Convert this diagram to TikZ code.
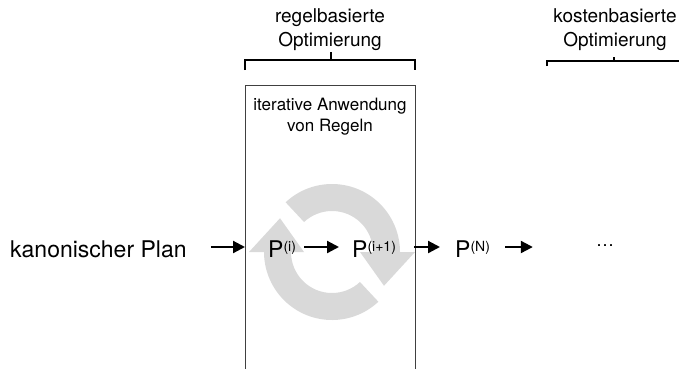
\documentclass[tikz,border=0pt]{standalone}
\usepackage{fontspec}
\setmainfont{TeX Gyre Heros}
\usetikzlibrary{arrows.meta}
\newcommand{\planP}[1]{P\raisebox{6pt}{\fontsize{14}{14}\selectfont(#1)}}
\begin{document}
\begin{tikzpicture}[x=1pt,y=-1pt,
  every node/.style={inner sep=0pt,font=\fontsize{23}{23}\selectfont},
  label/.style={align=center,font=\fontsize{19}{24}\selectfont},
  flow/.style={line width=2.2pt,-{Triangle[length=12pt,width=12pt]}},
  brace/.style={line width=1.3pt}]
\useasboundingbox (0,0) rectangle (679,368);
% refresh icon behind everything
\foreach \a in {0,180}{
  \fill[gray!30,shift={(332,252)},rotate=\a] (133:68pt) arc[start angle=133,end angle=0,radius=68pt]
    -- (0:83pt) -- (-33:62pt) -- (0:28pt) -- (0:41pt) arc[start angle=0,end angle=133,radius=41pt] -- cycle;
}
\draw[line width=0.8pt,black!75] (245,372) -- (245,85) -- (415,85) -- (415,372);
\node[label] (rule) at (330,30) {regelbasierte\\Optimierung};
\node[label] (cost) at (615,30) {kostenbasierte\\Optimierung};
\node[align=center,font=\fontsize{17}{21}\selectfont] (iter) at (330,117) {iterative Anwendung\\von Regeln};
\draw[brace] (245,70) -- (245,60) -- (415,60) -- (415,70) (331,60) -- (331,52);
\draw[brace] (547,66) -- (547,61) -- (690,61) (614,61) -- (614,57);
% row of plans
\node[anchor=base west] (canon) at (10,257) {kanonischer Plan};
\node[anchor=base west] (pi) at (268,257) {\planP{i}};
\node[anchor=base west] (pnext) at (352,257) {\planP{i+1}};
\node[anchor=base west] (pn) at (455,257) {\planP{N}};
\node[anchor=base,font=\fontsize{18}{18}\selectfont] (dots) at (605,246) {\textellipsis};
\draw[flow] ([yshift=10pt]canon.base east) ++(24,0) -- ([yshift=10pt]pi.base west-|245,0);
\draw[flow,shorten <=8pt,shorten >=13pt] ([yshift=10pt]pi.base east) -- ([yshift=10pt]pnext.base west);
\draw[flow,shorten <=18pt,shorten >=15pt] ([yshift=10pt]pnext.base east) -- ([yshift=10pt]pn.base west);
\draw[flow,shorten <=15pt,shorten >=63pt] ([yshift=10pt]pn.base east) -- ([yshift=10pt]pn.base east-|dots.west);
\end{tikzpicture}
\end{document}
